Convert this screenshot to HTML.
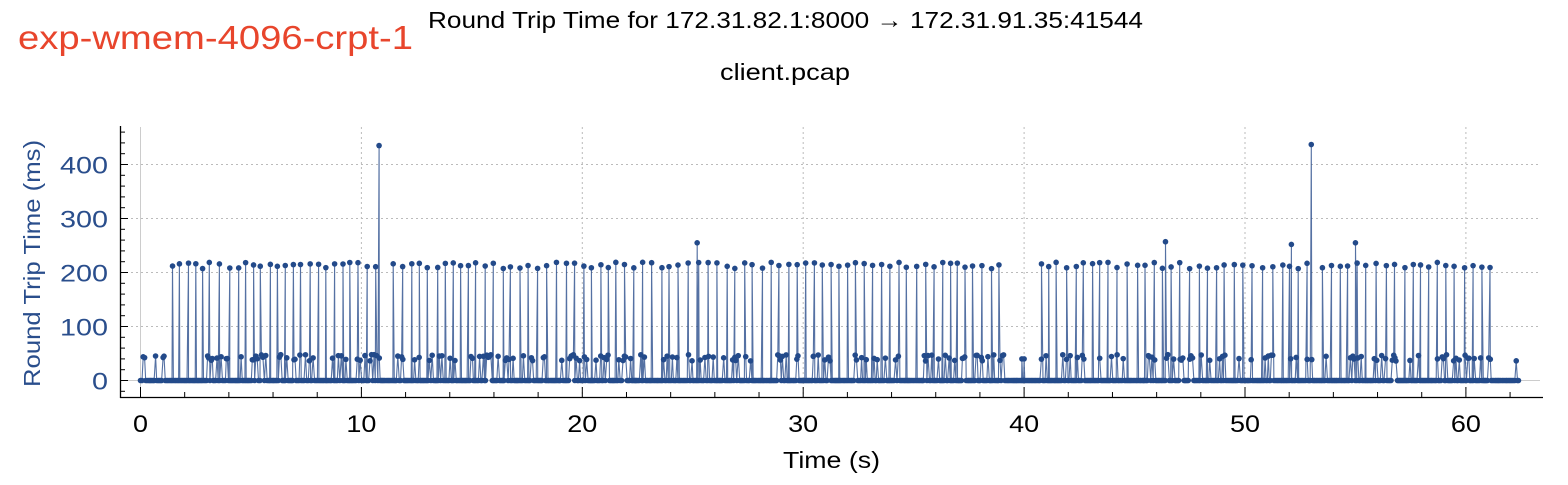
<!DOCTYPE html>
<html><head><meta charset="utf-8"><style>
body{margin:0;background:#fff;width:1568px;height:480px;overflow:hidden;font-family:"Liberation Sans",sans-serif}
</style></head><body>
<svg id="s" width="1568" height="480" xmlns="http://www.w3.org/2000/svg" font-family="Liberation Sans, sans-serif">
<text x="18" y="49" font-size="33" fill="#e8452c" textLength="395" lengthAdjust="spacingAndGlyphs">exp-wmem-4096-crpt-1</text>
<text x="428" y="28" font-size="23" fill="#000" textLength="715" lengthAdjust="spacingAndGlyphs">Round Trip Time for 172.31.82.1:8000 → 172.31.91.35:41544</text>
<text x="720" y="80" font-size="23" fill="#000" textLength="130" lengthAdjust="spacingAndGlyphs">client.pcap</text>
<text x="783" y="468" font-size="23" fill="#000" textLength="97" lengthAdjust="spacingAndGlyphs">Time (s)</text>
<text transform="translate(40,387) rotate(-90)" font-size="23" fill="#2a4e8c" textLength="247" lengthAdjust="spacingAndGlyphs">Round Trip Time (ms)</text>
<g id="g"></g>
</svg>
<script>
var g=document.getElementById('g'),ns='http://www.w3.org/2000/svg';
function el(t,a){var e=document.createElementNS(ns,t);for(var k in a)e.setAttribute(k,a[k]);g.appendChild(e);return e;}
function X(t){return 140.5+t*22.09}function Y(v){return 380.5-v*0.54}
for(var i=1;i<=4;i++)el('line',{x1:121,x2:1540,y1:Y(i*100),y2:Y(i*100),stroke:'#bbb','stroke-dasharray':'2,3'});
for(var i=1;i<=6;i++)el('line',{x1:X(i*10),x2:X(i*10),y1:127,y2:397,stroke:'#bbb','stroke-dasharray':'2,3'});
el('line',{x1:X(0),x2:X(0),y1:127,y2:397,stroke:'#ccc'});
el('line',{x1:121,x2:1540,y1:Y(0),y2:Y(0),stroke:'#ccc'});
el('line',{x1:120.5,x2:120.5,y1:126,y2:398,stroke:'#000','stroke-width':1.3});
el('line',{x1:120,x2:1543,y1:397.5,y2:397.5,stroke:'#000','stroke-width':1.3});
for(var v=-20;v<=460;v+=20){var m=v%100==0;el('line',{x1:120,x2:m?128:125,y1:Y(v),y2:Y(v),stroke:'#000'});}
for(var t=0;t<=62;t+=2){var m=t%10==0;el('line',{x1:X(t),x2:X(t),y1:397,y2:m?387:392,stroke:'#000'});}
for(var v=0;v<=400;v+=100){var s=String(v);var e=el('text',{x:108,y:Y(v)+9,'font-size':24,'text-anchor':'end',fill:'#2a4e8c',textLength:s.length*16,lengthAdjust:'spacingAndGlyphs'});e.textContent=s;}
for(var t=0;t<=60;t+=10){var s=String(t);var e=el('text',{x:X(t),y:432,'font-size':24,'text-anchor':'middle',fill:'#000',textLength:s.length*15,lengthAdjust:'spacingAndGlyphs'});e.textContent=s;}
var seed=123456789;function r(){seed^=seed<<13;seed^=seed>>>17;seed^=seed<<5;return ((seed>>>0)%100000)/100000;}
for(var i=0;i<20;i++)r();
function gap(t){return (t>39.1&&t<40.6)||(t>10.9&&t<11.3)||(t>53.1&&t<53.5);}
var pts=[],t=0;
while(t<62.4){
  var v=0;
  if(!gap(t)&&r()<0.2)v=36+r()*12;
  pts.push([t,v]);
  t+=0.04+r()*0.03;
}
t=1.45;
while(t<61.5){
  if(!gap(t)&&!(t>10.7&&t<11.3)&&!(t>52.9&&t<53.5))pts.push([t,207+r()*12]);
  t+=0.30+r()*0.18;
}
var special={10.8:435,53.0:437,25.2:255,46.4:257,52.1:252,55.0:255};
for(var k in special){pts.push([+k,special[k]]);}
pts.push([39.9,40]);pts.push([40.0,40]);
pts.sort(function(a,b){return a[0]-b[0]});
var d=pts.map(function(p,i){return (i?'L':'M')+X(p[0]).toFixed(1)+' '+Y(p[1]).toFixed(1)}).join('');
el('path',{d:d,fill:'none',stroke:'#2a4e8c','stroke-width':1.1,'stroke-opacity':0.8});
pts.forEach(function(p){el('circle',{cx:X(p[0]),cy:Y(p[1]),r:2.8,fill:'#234a8a'});});
</script>
</body></html>
